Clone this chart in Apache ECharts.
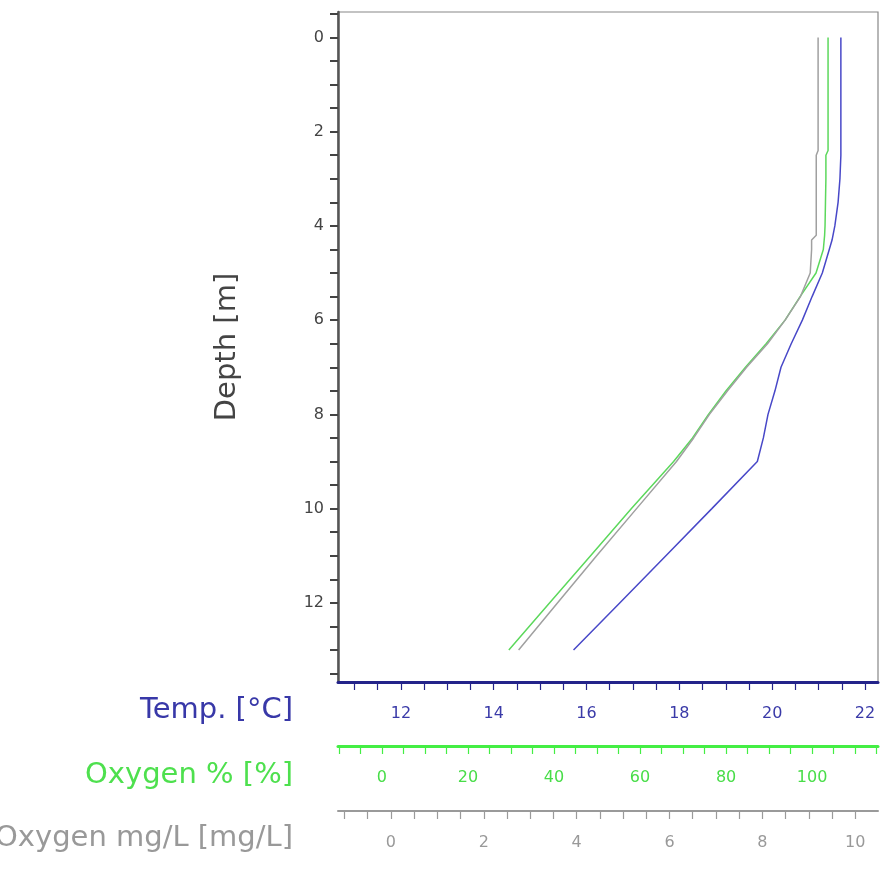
<!DOCTYPE html>
<html>
<head>
<meta charset="utf-8">
<script src="https://cdn.jsdelivr.net/npm/echarts@6/dist/echarts.min.js"></script>
<style>
html,body{margin:0;padding:0;background:#fff;}
#chart{width:889px;height:876px;}
</style>
</head>
<body>
<div id="chart"></div>
<script>
// Depth levels [m]
const depths = [0, 1, 2, 2.4, 2.5, 3, 3.5, 4, 4.2, 4.3, 4.5, 5, 5.5, 6, 6.5, 7, 7.5, 8, 8.5, 9, 10, 11, 12, 13];
// Temperature [°C]
const tempC = [21.48, 21.48, 21.48, 21.48, 21.48, 21.46, 21.42, 21.35, 21.31, 21.29, 21.23, 21.08, 20.86, 20.65, 20.41, 20.19, 20.06, 19.91, 19.81, 19.68, 18.70, 17.71, 16.72, 15.72];
// Oxygen saturation [%]
const oxygenPct = [103.7, 103.7, 103.7, 103.7, 103.2, 103.2, 103.1, 103.0, 102.9, 102.8, 102.6, 100.9, 97.2, 93.7, 89.3, 84.5, 80.0, 75.9, 72.2, 67.8, 58.0, 48.5, 39.0, 29.5];
// Oxygen concentration [mg/L]
const oxygenMgL = [9.20, 9.20, 9.20, 9.20, 9.16, 9.16, 9.16, 9.16, 9.16, 9.06, 9.06, 9.03, 8.82, 8.49, 8.11, 7.66, 7.25, 6.86, 6.52, 6.15, 5.29, 4.43, 3.59, 2.75];

// Tick labels
const depthLabels = [0, 2, 4, 6, 8, 10, 12];
const tempLabels = [12, 14, 16, 18, 20, 22];
const pctLabels = [0, 20, 40, 60, 80, 100];
const mglLabels = [0, 2, 4, 6, 8, 10];

function steps(a, b, s) { const r = []; for (let v = a; v <= b + 1e-9; v += s) r.push(+v.toFixed(3)); return r; }
const depthTicks = steps(-0.5, 13.5, 0.5);
const tempTicks = steps(11, 22, 0.5);
const pctTicks = steps(-10, 115, 5);
const mglTicks = steps(-1, 10.5, 0.5);

const FONT = 'DejaVu Sans';
const BLUE = '#4848c8', GREEN = '#5cd85c', GREY = '#a0a0a0';

function xAxisDef(min, max, offset, ticks, labels, lineColor, lineWidth, labelColor, name, nameColor, namePad) {
  return {
    type: 'value', position: 'bottom', offset: offset, min: min, max: max,
    name: name, nameLocation: 'start', nameGap: 45,
    nameTextStyle: { color: nameColor, fontFamily: FONT, fontSize: 29, align: 'right', verticalAlign: 'top', padding: [namePad, 0, 0, 0] },
    axisLine: { show: true, onZero: false, lineStyle: { color: lineColor, width: lineWidth } },
    axisTick: { show: true, inside: false, length: 8, customValues: ticks, lineStyle: { color: lineColor, width: 1.2 } },
    axisLabel: { show: true, customValues: labels, margin: 24, color: labelColor, fontFamily: FONT, fontSize: 16 },
    splitLine: { show: false }
  };
}

const chart = echarts.init(document.getElementById('chart'), null, { renderer: 'canvas' });
chart.setOption({
  animation: false,
  backgroundColor: '#fff',
  grid: { left: 338, right: 11, top: 12, bottom: 194, containLabel: false, outerBoundsMode: 'none', show: true, borderColor: '#888', borderWidth: 1.2, backgroundColor: 'transparent' },
  xAxis: [
    xAxisDef(10.645, 22.28, 0, tempTicks, tempLabels, '#23238a', 3, '#3a3aa8', 'Temp. [°C]', '#3838a8', 14),
    xAxisDef(-10.21, 115.31, 64, pctTicks, pctLabels, '#44ee44', 3, '#48dd48', 'Oxygen % [%]', '#4ee04e', 15),
    xAxisDef(-1.14, 10.49, 129, mglTicks, mglLabels, '#9a9a9a', 2, '#999', 'Oxygen mg/L [mg/L]', '#999', 13)
  ],
  yAxis: {
    type: 'value', inverse: true, min: -0.54, max: 13.68,
    name: 'Depth [m]', nameLocation: 'middle', nameGap: 96, nameRotate: 90,
    nameTextStyle: { color: '#444', fontFamily: FONT, fontSize: 29 },
    axisLine: { show: true, onZero: false, lineStyle: { color: '#555', width: 2.5 } },
    axisTick: { show: true, inside: false, length: 8, customValues: depthTicks, lineStyle: { color: '#444', width: 2 } },
    axisLabel: { show: true, customValues: depthLabels, margin: 14, color: '#444', fontFamily: FONT, fontSize: 16 },
    splitLine: { show: false }
  },
  series: [
    { type: 'line', name: 'Temp. [°C]', xAxisIndex: 0, showSymbol: false, lineStyle: { color: BLUE, width: 1.5 },
      data: depths.map((d, i) => [tempC[i], d]) },
    { type: 'line', name: 'Oxygen % [%]', xAxisIndex: 1, showSymbol: false, lineStyle: { color: GREEN, width: 1.5 },
      data: depths.map((d, i) => [oxygenPct[i], d]) },
    { type: 'line', name: 'Oxygen mg/L [mg/L]', xAxisIndex: 2, showSymbol: false, lineStyle: { color: GREY, width: 1.5 },
      data: depths.map((d, i) => [oxygenMgL[i], d]) }
  ]
});
</script>
</body>
</html>
